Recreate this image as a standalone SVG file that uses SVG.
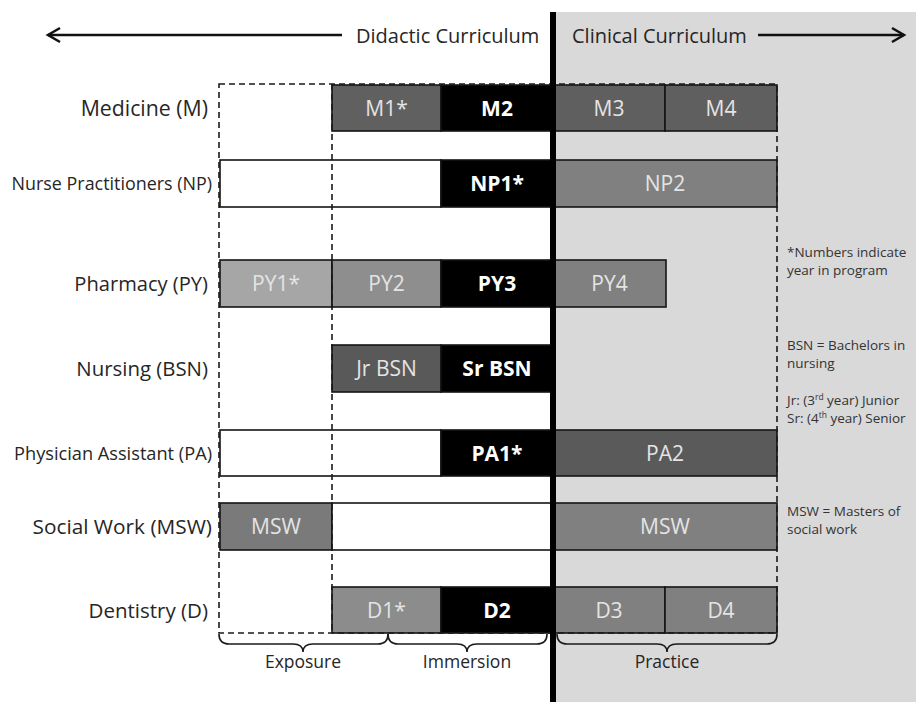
<svg xmlns="http://www.w3.org/2000/svg" width="916" height="702" viewBox="0 0 916 702">
<style>
text{font-family:"Open Sans","Noto Sans",sans-serif}
.hdr{font-size:20px;fill:#262626}
.row{fill:#262626;text-anchor:end}
.bl{font-size:21px;fill:#e4e4e4;text-anchor:middle}
.bb{font-size:21px;font-weight:bold;fill:#ffffff;text-anchor:middle}
.note{font-size:13.5px;fill:#333333}
.brl{font-size:17.5px;fill:#262626;text-anchor:middle}
.bar{stroke:#141414;stroke-width:1.6}
.dash{fill:none;stroke:#1a1a1a;stroke-width:1.6;stroke-dasharray:6 4}
.arr{fill:none;stroke:#111;stroke-width:2.5}
.brace{fill:none;stroke:#1a1a1a;stroke-width:1.6}
</style>
<rect x="0" y="0" width="916" height="702" fill="#ffffff"/>
<rect id="clinical-bg" x="553" y="12" width="363" height="690" fill="#d9d9d9"/>

<g id="header">
<text class="hdr" x="356" y="43">Didactic Curriculum</text>
<text class="hdr" x="572" y="43">Clinical Curriculum</text>
</g>

<g id="connectors">
<line class="arr" x1="48" y1="35" x2="342" y2="35"/>
<polyline class="arr" points="60,28 48,35 60,42"/>
<line class="arr" x1="758" y1="35" x2="904" y2="35"/>
<polyline class="arr" points="892,28 904,35 892,42"/>
</g>

<g id="row-labels">
<text class="row" x="208" y="116" font-size="21.3px">Medicine (M)</text>
<text class="row" x="212" y="190" font-size="17.9px">Nurse Practitioners (NP)</text>
<text class="row" x="208" y="291" font-size="20.1px">Pharmacy (PY)</text>
<text class="row" x="208" y="376" font-size="20.4px">Nursing (BSN)</text>
<text class="row" x="212" y="459.5" font-size="18.2px">Physician Assistant (PA)</text>
<text class="row" x="212" y="534" font-size="20.8px">Social Work (MSW)</text>
<text class="row" x="208" y="618" font-size="20.5px">Dentistry (D)</text>
</g>

<g id="medicine">
<rect class="bar" x="332" y="85" width="109" height="46" fill="#606060"/>
<rect class="bar" x="441" y="85" width="112" height="46" fill="#000000"/>
<rect class="bar" x="553" y="85" width="112" height="46" fill="#5f5f5f"/>
<rect class="bar" x="665" y="85" width="112" height="46" fill="#5f5f5f"/>
<text class="bl" x="386.5" y="116">M1*</text>
<text class="bb" x="497" y="116">M2</text>
<text class="bl" x="609" y="116">M3</text>
<text class="bl" x="721" y="116">M4</text>
</g>

<g id="nurse-practitioners">
<rect class="bar" x="220" y="160" width="221" height="47" fill="#ffffff"/>
<rect class="bar" x="441" y="160" width="112" height="47" fill="#000000"/>
<rect class="bar" x="553" y="160" width="224" height="47" fill="#808080"/>
<text class="bb" x="497" y="191">NP1*</text>
<text class="bl" x="665" y="191">NP2</text>
</g>

<g id="pharmacy">
<rect class="bar" x="220" y="260" width="112" height="47" fill="#a6a6a6"/>
<rect class="bar" x="332" y="260" width="109" height="47" fill="#8e8e8e"/>
<rect class="bar" x="441" y="260" width="112" height="47" fill="#000000"/>
<rect class="bar" x="553" y="260" width="113" height="47" fill="#808080"/>
<text class="bl" x="276" y="291">PY1*</text>
<text class="bl" x="386.5" y="291">PY2</text>
<text class="bb" x="497" y="291">PY3</text>
<text class="bl" x="609.5" y="291">PY4</text>
</g>

<g id="nursing">
<rect class="bar" x="332" y="345" width="109" height="47" fill="#595959"/>
<rect class="bar" x="441" y="345" width="112" height="47" fill="#000000"/>
<text class="bl" x="386.5" y="376" font-size="19.5px">Jr BSN</text>
<text class="bb" x="497" y="376">Sr BSN</text>
</g>

<g id="physician-assistant">
<rect class="bar" x="220" y="430" width="221" height="46" fill="#ffffff"/>
<rect class="bar" x="441" y="430" width="112" height="46" fill="#000000"/>
<rect class="bar" x="553" y="430" width="224" height="46" fill="#5a5a5a"/>
<text class="bb" x="497" y="460.5">PA1*</text>
<text class="bl" x="665" y="460.5">PA2</text>
</g>

<g id="social-work">
<rect class="bar" x="220" y="503" width="112" height="47" fill="#7a7a7a"/>
<rect class="bar" x="332" y="503" width="221" height="47" fill="#ffffff"/>
<rect class="bar" x="553" y="503" width="224" height="47" fill="#808080"/>
<text class="bl" x="276" y="534">MSW</text>
<text class="bl" x="665" y="534">MSW</text>
</g>

<g id="dentistry">
<rect class="bar" x="332" y="587" width="109" height="46" fill="#8c8c8c"/>
<rect class="bar" x="441" y="587" width="112" height="46" fill="#000000"/>
<rect class="bar" x="553" y="587" width="112" height="46" fill="#808080"/>
<rect class="bar" x="665" y="587" width="112" height="46" fill="#808080"/>
<text class="bl" x="386.5" y="617.5">D1*</text>
<text class="bb" x="497" y="617.5">D2</text>
<text class="bl" x="609" y="617.5">D3</text>
<text class="bl" x="721" y="617.5">D4</text>
</g>

<g id="phase-frame">
<rect class="dash" x="219" y="84" width="558" height="549"/>
<line class="dash" x1="332" y1="84" x2="332" y2="633"/>
</g>

<rect id="divider" x="550" y="12" width="6" height="690" fill="#000000"/>

<g id="notes">
<text class="note" x="787" y="257">*Numbers indicate</text>
<text class="note" x="787" y="275">year in program</text>
<text class="note" x="787" y="350">BSN = Bachelors in</text>
<text class="note" x="787" y="368">nursing</text>
<text class="note" x="787" y="405">Jr: (3<tspan font-size="8.5px" baseline-shift="super">rd</tspan> year) Junior</text>
<text class="note" x="787" y="423">Sr: (4<tspan font-size="8.5px" baseline-shift="super">th</tspan> year) Senior</text>
<text class="note" x="787" y="516">MSW = Masters of</text>
<text class="note" x="787" y="534">social work</text>
</g>

<g id="exposure">
<path class="brace" d="M219,634 Q219,644 229,644 L293,644 Q303,644 303,652 Q303,644 313,644 L378,644 Q388,644 388,634"/>
<text class="brl" x="303" y="668">Exposure</text>
</g>
<g id="immersion">
<path class="brace" d="M388,634 Q388,644 398,644 L457,644 Q467,644 467,652 Q467,644 477,644 L537,644 Q547,644 547,634"/>
<text class="brl" x="467" y="668">Immersion</text>
</g>
<g id="practice">
<path class="brace" d="M557,634 Q557,644 567,644 L657,644 Q667,644 667,652 Q667,644 677,644 L767,644 Q777,644 777,634"/>
<text class="brl" x="667" y="668">Practice</text>
</g>
</svg>
